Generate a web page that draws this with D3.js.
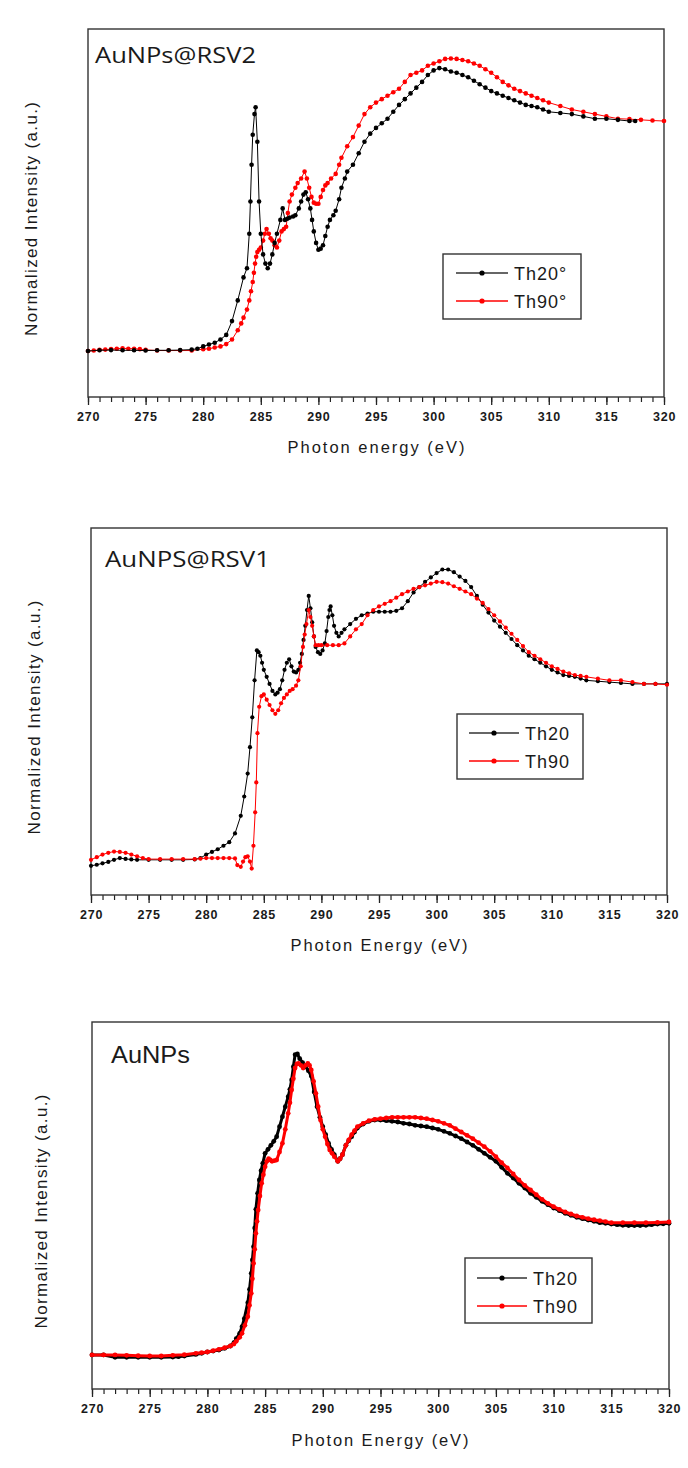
<!DOCTYPE html>
<html><head><meta charset="utf-8">
<script src="https://cdn.jsdelivr.net/npm/d3@7"></script>
<style>html,body{margin:0;padding:0;background:#fff;} svg{display:block;}</style>
</head><body>
<svg id="chart" width="688" height="1468"></svg>
<script>
// ---------- tick labels / categories ----------
const majorTicks = [270, 275, 280, 285, 290, 295, 300, 305, 310, 315, 320];
const tickLabels = ["270","275","280","285","290","295","300","305","310","315","320"];
const minorTicks = d3.range(270, 321, 1);
const panelTitles = ["AuNPs@RSV2", "AuNPS@RSV1", "AuNPs"];
const xTitles = ["Photon energy (eV)", "Photon Energy (eV)", "Photon Energy (eV)"];
const yTitle = "Normalized Intensity (a.u.)";
const legendLabelsTop = ["Th20°", "Th90°"];
const legendLabels = ["Th20", "Th90"];

// ---------- series: [photon energy eV, normalized intensity] ----------
const rsv2Th20 = [[270,0],[271,0.003],[272,0.004],[273,0.003],[274,0.003],[275,0.002],[276,0.003],[277,0.003],[278,0.004],[279,0.006],[279.5,0.01],[280,0.02],[280.5,0.028],[281,0.036],[281.5,0.05],[282,0.07],[282.5,0.13],[283,0.22],[283.5,0.32],[283.8,0.36],[284,0.51],[284.1,0.65],[284.2,0.81],[284.3,0.94],[284.45,1.03],[284.55,1.06],[284.7,0.91],[284.85,0.65],[285,0.51],[285.2,0.42],[285.4,0.38],[285.6,0.36],[285.8,0.38],[286,0.42],[286.2,0.47],[286.4,0.51],[286.7,0.57],[286.9,0.62],[287.1,0.57],[287.3,0.575],[287.5,0.58],[287.8,0.585],[288,0.59],[288.3,0.62],[288.5,0.65],[288.7,0.68],[288.9,0.69],[289.1,0.66],[289.3,0.62],[289.45,0.57],[289.6,0.52],[289.8,0.47],[290,0.44],[290.2,0.445],[290.4,0.46],[290.6,0.5],[290.8,0.54],[291,0.57],[291.3,0.59],[291.5,0.61],[291.8,0.66],[292,0.71],[292.3,0.75],[292.5,0.78],[293,0.81],[293.5,0.86],[294,0.91],[294.5,0.945],[295,0.97],[295.5,0.99],[296,1.01],[296.5,1.04],[297,1.07],[297.5,1.095],[298,1.12],[298.5,1.145],[299,1.17],[299.5,1.2],[300,1.22],[300.5,1.23],[301,1.225],[301.5,1.215],[302,1.21],[302.5,1.2],[303,1.19],[303.5,1.175],[304,1.16],[304.5,1.145],[305,1.13],[305.5,1.12],[306,1.11],[306.5,1.1],[307,1.09],[307.5,1.08],[308,1.07],[308.5,1.065],[309,1.06],[309.5,1.05],[310,1.04],[311,1.035],[312,1.03],[313,1.02],[314,1.01],[315,1.01],[316,1.005],[317,1.0],[317.5,1.0]];
const rsv2Th90 = [[270,0],[270.5,0.002],[271,0.005],[271.5,0.006],[272,0.008],[272.5,0.01],[273,0.012],[273.5,0.01],[274,0.01],[274.5,0.008],[275,0.005],[276,0.002],[277,0.002],[278,0.002],[279,0.002],[280,0.008],[280.5,0.01],[281,0.015],[281.5,0.02],[282,0.03],[282.5,0.05],[283,0.09],[283.3,0.12],[283.5,0.145],[283.8,0.18],[284,0.22],[284.15,0.26],[284.3,0.3],[284.4,0.34],[284.5,0.38],[284.6,0.41],[284.7,0.43],[284.85,0.44],[285,0.45],[285.2,0.48],[285.35,0.51],[285.5,0.53],[285.7,0.51],[285.85,0.49],[286,0.48],[286.2,0.46],[286.4,0.45],[286.6,0.48],[286.8,0.52],[287,0.53],[287.2,0.54],[287.35,0.6],[287.5,0.65],[287.7,0.68],[288,0.71],[288.2,0.73],[288.5,0.75],[288.8,0.78],[289,0.75],[289.2,0.71],[289.4,0.67],[289.6,0.645],[289.8,0.64],[290,0.64],[290.2,0.67],[290.4,0.7],[290.6,0.72],[290.8,0.73],[291.1,0.75],[291.5,0.77],[291.8,0.81],[292,0.84],[292.5,0.89],[293,0.93],[293.5,0.98],[294,1.03],[294.5,1.06],[295,1.08],[295.5,1.095],[296,1.11],[296.5,1.125],[297,1.14],[297.5,1.17],[298,1.2],[298.5,1.21],[299,1.22],[299.5,1.24],[300,1.25],[300.5,1.26],[301,1.27],[301.5,1.272],[302,1.27],[302.5,1.265],[303,1.26],[303.5,1.25],[304,1.24],[304.5,1.225],[305,1.21],[305.5,1.19],[306,1.17],[306.5,1.155],[307,1.14],[307.5,1.13],[308,1.12],[308.5,1.11],[309,1.1],[309.5,1.09],[310,1.08],[311,1.065],[312,1.05],[313,1.04],[314,1.03],[315,1.02],[316,1.01],[317,1.008],[318,1.005],[319,1.002],[320,1.0]];

const rsv1Th20 = [[270,-0.034],[270.5,-0.028],[271,-0.02],[271.5,-0.012],[272,0],[272.5,0.01],[273,0.005],[273.5,0.002],[274,0],[275,0],[276,0],[277,0],[278,0],[279,0.002],[279.5,0.01],[280,0.03],[280.5,0.045],[281,0.06],[281.5,0.08],[282,0.1],[282.5,0.15],[283,0.25],[283.3,0.36],[283.6,0.49],[283.8,0.64],[284,0.81],[284.2,1.02],[284.4,1.19],[284.55,1.18],[284.7,1.16],[284.85,1.12],[285,1.08],[285.25,1.04],[285.5,1.0],[285.75,0.96],[286,0.94],[286.2,0.95],[286.4,0.97],[286.6,1.02],[286.8,1.08],[287,1.12],[287.2,1.14],[287.4,1.1],[287.6,1.07],[287.8,1.065],[288,1.08],[288.15,1.12],[288.3,1.17],[288.45,1.25],[288.6,1.33],[288.75,1.42],[288.9,1.5],[289.05,1.43],[289.2,1.35],[289.35,1.27],[289.5,1.21],[289.7,1.18],[289.9,1.17],[290.1,1.19],[290.3,1.23],[290.45,1.3],[290.6,1.38],[290.7,1.42],[290.8,1.44],[290.95,1.39],[291.1,1.33],[291.3,1.29],[291.5,1.27],[291.75,1.29],[292,1.31],[292.5,1.34],[293,1.37],[293.5,1.39],[294,1.4],[294.5,1.41],[295,1.41],[295.5,1.41],[296,1.41],[296.5,1.415],[297,1.43],[297.5,1.47],[298,1.52],[298.5,1.55],[299,1.58],[299.5,1.605],[300,1.63],[300.5,1.65],[301,1.65],[301.5,1.635],[302,1.61],[302.5,1.585],[303,1.55],[303.5,1.5],[304,1.45],[304.5,1.405],[305,1.36],[305.5,1.325],[306,1.29],[306.5,1.255],[307,1.22],[307.5,1.19],[308,1.16],[308.5,1.14],[309,1.12],[309.5,1.1],[310,1.08],[310.5,1.065],[311,1.05],[311.5,1.045],[312,1.04],[312.5,1.03],[313,1.02],[314,1.015],[315,1.01],[316,1.005],[317,1.0],[318,1.0],[319,1.0],[320,1.0]];
const rsv1Th90 = [[270,0],[270.5,0.015],[271,0.03],[271.5,0.04],[272,0.047],[272.5,0.045],[273,0.04],[273.5,0.03],[274,0.02],[274.5,0.01],[275,0.004],[276,0.004],[277,0.004],[278,0.004],[279,0.004],[279.5,0.006],[280,0.01],[280.5,0.01],[281,0.01],[281.5,0.01],[282,0.01],[282.5,0.008],[282.7,-0.03],[283,-0.04],[283.2,-0.01],[283.4,0.015],[283.6,0.02],[283.8,-0.01],[283.95,-0.05],[284.1,0.08],[284.25,0.27],[284.35,0.44],[284.45,0.72],[284.6,0.87],[284.8,0.93],[285,0.94],[285.25,0.91],[285.5,0.88],[285.75,0.85],[286,0.83],[286.25,0.85],[286.5,0.89],[286.75,0.92],[287,0.94],[287.25,0.96],[287.5,0.97],[287.8,0.99],[288,1.02],[288.2,1.1],[288.4,1.21],[288.55,1.28],[288.7,1.34],[288.9,1.42],[289.05,1.38],[289.2,1.33],[289.35,1.27],[289.5,1.22],[289.75,1.22],[290,1.22],[290.5,1.22],[291,1.22],[291.5,1.22],[292,1.23],[292.5,1.27],[293,1.31],[293.5,1.34],[294,1.39],[294.5,1.42],[295,1.44],[295.5,1.455],[296,1.47],[296.5,1.49],[297,1.51],[297.5,1.525],[298,1.54],[298.5,1.55],[299,1.56],[299.5,1.57],[300,1.58],[300.5,1.578],[301,1.57],[301.5,1.555],[302,1.54],[302.5,1.525],[303,1.51],[303.5,1.485],[304,1.46],[304.5,1.425],[305,1.39],[305.5,1.355],[306,1.32],[306.5,1.285],[307,1.25],[307.5,1.215],[308,1.18],[308.5,1.16],[309,1.14],[309.5,1.12],[310,1.1],[310.5,1.085],[311,1.07],[311.5,1.06],[312,1.05],[312.5,1.045],[313,1.04],[314,1.03],[315,1.02],[316,1.02],[317,1.01],[318,1.0],[319,1.0],[320,0.995]];

const auTh20 = [[270,0.008],[271,0.008],[272,-0.01],[273,-0.01],[274,-0.01],[275,-0.01],[276,-0.01],[277,-0.008],[277.5,-0.005],[278,0.0],[279,0.012],[279.5,0.02],[280,0.03],[280.5,0.037],[281,0.045],[281.5,0.058],[282,0.075],[282.3,0.1],[282.5,0.13],[282.8,0.17],[283,0.22],[283.2,0.28],[283.5,0.4],[283.65,0.5],[283.8,0.62],[283.9,0.72],[284,0.82],[284.1,0.96],[284.2,1.1],[284.35,1.22],[284.5,1.32],[284.65,1.39],[284.8,1.445],[285,1.52],[285.25,1.55],[285.5,1.58],[285.75,1.61],[286,1.645],[286.25,1.72],[286.5,1.795],[286.75,1.87],[287,1.945],[287.15,2.0],[287.3,2.07],[287.45,2.17],[287.6,2.26],[287.8,2.265],[288,2.23],[288.25,2.2],[288.5,2.17],[288.75,2.14],[289,2.1],[289.25,1.98],[289.5,1.87],[289.75,1.79],[290,1.72],[290.25,1.66],[290.5,1.595],[290.75,1.55],[291,1.51],[291.3,1.46],[291.5,1.48],[291.7,1.51],[292,1.58],[292.25,1.615],[292.5,1.645],[292.75,1.68],[293,1.71],[293.5,1.74],[294,1.76],[294.5,1.77],[295,1.77],[295.5,1.765],[296,1.76],[296.5,1.755],[297,1.745],[297.5,1.74],[298,1.73],[298.5,1.725],[299,1.72],[299.5,1.71],[300,1.7],[300.5,1.685],[301,1.67],[301.5,1.65],[302,1.63],[302.5,1.605],[303,1.58],[303.5,1.55],[304,1.52],[304.5,1.49],[305,1.46],[305.5,1.415],[306,1.37],[306.5,1.335],[307,1.295],[307.5,1.26],[308,1.22],[308.5,1.19],[309,1.16],[309.5,1.135],[310,1.11],[310.5,1.09],[311,1.07],[311.5,1.055],[312,1.04],[312.5,1.03],[313,1.02],[313.5,1.01],[314,1.0],[314.5,0.995],[315,0.99],[315.5,0.985],[316,0.98],[316.5,0.978],[317,0.978],[317.5,0.978],[318,0.98],[318.5,0.985],[319,0.99],[319.5,0.992],[320,0.995]];
const auTh90 = [[270,0.008],[271,0.008],[272,0.008],[273,0.005],[274,0.002],[275,0],[276,0],[277,0.005],[278,0.01],[279,0.02],[279.5,0.025],[280,0.03],[280.5,0.04],[281,0.05],[281.5,0.062],[282,0.075],[282.3,0.09],[282.5,0.11],[282.8,0.14],[283,0.17],[283.25,0.23],[283.5,0.295],[283.65,0.38],[283.8,0.47],[283.9,0.58],[284,0.695],[284.1,0.8],[284.2,0.92],[284.3,1.01],[284.4,1.095],[284.55,1.2],[284.7,1.295],[284.85,1.36],[285,1.42],[285.15,1.46],[285.3,1.48],[285.45,1.47],[285.6,1.46],[285.8,1.465],[286,1.47],[286.25,1.53],[286.5,1.595],[286.75,1.7],[287,1.82],[287.15,1.9],[287.3,1.995],[287.45,2.08],[287.6,2.16],[287.75,2.19],[287.9,2.195],[288.1,2.18],[288.3,2.16],[288.5,2.18],[288.7,2.195],[288.85,2.18],[289,2.145],[289.2,2.06],[289.4,1.97],[289.6,1.87],[289.8,1.77],[290,1.7],[290.2,1.645],[290.4,1.59],[290.6,1.545],[290.8,1.52],[291,1.495],[291.3,1.46],[291.5,1.48],[291.7,1.51],[292,1.58],[292.25,1.62],[292.5,1.66],[292.75,1.69],[293,1.72],[293.5,1.745],[294,1.765],[294.5,1.775],[295,1.78],[295.5,1.785],[296,1.79],[296.5,1.79],[297,1.79],[297.5,1.79],[298,1.79],[298.5,1.785],[299,1.78],[299.5,1.77],[300,1.76],[300.5,1.745],[301,1.73],[301.5,1.705],[302,1.68],[302.5,1.655],[303,1.63],[303.5,1.6],[304,1.57],[304.5,1.535],[305,1.495],[305.5,1.45],[306,1.41],[306.5,1.365],[307,1.32],[307.5,1.28],[308,1.245],[308.5,1.21],[309,1.175],[309.5,1.145],[310,1.12],[310.5,1.1],[311,1.08],[311.5,1.065],[312,1.05],[312.5,1.04],[313,1.03],[313.5,1.022],[314,1.015],[314.5,1.008],[315,1.0],[316,1.0],[317,1.0],[318,1.0],[319,1.002],[320,1.005]];

// ---------- layout (positions / styles only) ----------
const panels = [
  { title: panelTitles[0], xTitle: xTitles[0], legend: legendLabelsTop, series: [rsv2Th90, rsv2Th20], order: ["red","black"],
    left: 88, right: 664, top: 29, bottom: 397, yDomain: [-0.2, 1.4],
    titleX: 95, titleY: 63, titleFont: "'Open Sans', 'Noto Sans', sans-serif", titleSize: 21, titleLen: 161,
    xTitleX: 376, xTitleY: 453, yTitleX: 37,
    leg: { x: 443, y: 254, w: 138, h: 65, lx1: 456, lx2: 508, row1: 273, row2: 301, tx: 514 },
    lineW: 1, r: 2.3 },
  { title: panelTitles[1], xTitle: xTitles[1], legend: legendLabels, series: [rsv1Th20, rsv1Th90], order: ["black","red"],
    left: 91, right: 667, top: 528, bottom: 895, yDomain: [-0.2, 1.886],
    titleX: 105, titleY: 567, titleFont: "'Open Sans', 'Noto Sans', sans-serif", titleSize: 21, titleLen: 165,
    xTitleX: 379, xTitleY: 951, yTitleX: 40,
    leg: { x: 457, y: 714, w: 126, h: 65, lx1: 469, lx2: 519, row1: 733, row2: 761, tx: 525 },
    lineW: 1, r: 2.1 },
  { title: panelTitles[2], xTitle: xTitles[2], legend: legendLabels, series: [auTh20, auTh90], order: ["black","red"],
    left: 92, right: 669, top: 1022, bottom: 1389, yDomain: [-0.2475, 2.505],
    titleX: 111, titleY: 1063, titleFont: "'Liberation Sans', Arial, sans-serif", titleSize: 23, titleLen: 79,
    xTitleX: 380, xTitleY: 1446, yTitleX: 47,
    leg: { x: 465, y: 1258, w: 127, h: 65, lx1: 477, lx2: 527, row1: 1278, row2: 1306, tx: 533 },
    lineW: 3, r: 2.4 }
];
const colors = { black: "#000000", red: "#ff0000" };
const legendLine = { black: "#333333", red: "#ff0000" };

const svg = d3.select("#chart");
svg.append("rect").attr("width", 688).attr("height", 1468).attr("fill", "#fff");

panels.forEach(p => {
  const g = svg.append("g");
  const x = d3.scaleLinear().domain([270, 320]).range([p.left, p.right]);
  const y = d3.scaleLinear().domain(p.yDomain).range([p.bottom, p.top]);

  // minor ticks
  const minorAxis = d3.axisBottom(x).tickValues(minorTicks).tickSize(5).tickFormat("");
  const ga = g.append("g").attr("transform", `translate(0,${p.bottom})`).call(minorAxis);
  ga.select(".domain").remove();
  ga.selectAll("line").attr("stroke", "#222").attr("stroke-width", 1.2);

  // major ticks + labels
  const majorAxis = d3.axisBottom(x).tickValues(majorTicks).tickSize(8).tickPadding(7.5)
    .tickFormat((d, i) => tickLabels[i]);
  const gm = g.append("g").attr("transform", `translate(0,${p.bottom})`).call(majorAxis);
  gm.select(".domain").remove();
  gm.selectAll("line").attr("stroke", "#222").attr("stroke-width", 1.3);
  gm.selectAll("text").attr("font-family", "'Liberation Sans', Arial, sans-serif")
    .attr("font-size", 12.5).attr("font-weight", "bold").attr("fill", "#1a1a1a")
    .attr("letter-spacing", 0.8);

  // frame
  g.append("rect").attr("x", p.left).attr("y", p.top)
    .attr("width", p.right - p.left).attr("height", p.bottom - p.top)
    .attr("fill", "none").attr("stroke", "#333").attr("stroke-width", 1.4);

  // series
  const line = d3.line().x(d => x(d[0])).y(d => y(d[1]));
  p.series.forEach((s, i) => {
    const c = colors[p.order[i]];
    g.append("path").datum(s).attr("d", line).attr("fill", "none")
      .attr("stroke", c).attr("stroke-width", p.lineW).attr("stroke-linejoin", "round");
    g.append("g").selectAll("circle").data(s).join("circle")
      .attr("cx", d => x(d[0])).attr("cy", d => y(d[1])).attr("r", p.r).attr("fill", c);
  });

  // panel title
  g.append("text").attr("x", p.titleX).attr("y", p.titleY)
    .attr("font-family", p.titleFont).attr("font-size", p.titleSize)
    .attr("fill", "#1a1a1a").attr("textLength", p.titleLen).attr("lengthAdjust", "spacingAndGlyphs")
    .text(p.title);

  // axis titles
  g.append("text").attr("x", p.xTitleX).attr("y", p.xTitleY).attr("text-anchor", "middle")
    .attr("font-family", "'Liberation Sans', Arial, sans-serif").attr("font-size", 16.5)
    .attr("fill", "#1a1a1a").attr("textLength", 177).attr("lengthAdjust", "spacing")
    .text(p.xTitle);
  const cy = (p.top + p.bottom) / 2 + 6;
  g.append("text").attr("transform", `translate(${p.yTitleX},${cy}) rotate(-90)`)
    .attr("text-anchor", "middle")
    .attr("font-family", "'Liberation Sans', Arial, sans-serif").attr("font-size", 17)
    .attr("fill", "#1a1a1a").attr("textLength", 234).attr("lengthAdjust", "spacing")
    .text(yTitle);

  // legend
  const L = p.leg;
  g.append("rect").attr("x", L.x).attr("y", L.y).attr("width", L.w).attr("height", L.h)
    .attr("fill", "#fff").attr("stroke", "#333").attr("stroke-width", 1.4);
  ["black", "red"].forEach((k, i) => {
    const ry = i === 0 ? L.row1 : L.row2;
    g.append("line").attr("x1", L.lx1).attr("x2", L.lx2).attr("y1", ry).attr("y2", ry)
      .attr("stroke", legendLine[k]).attr("stroke-width", 1.3);
    g.append("circle").attr("cx", (L.lx1 + L.lx2) / 2).attr("cy", ry).attr("r", 2.6).attr("fill", colors[k]);
    g.append("text").attr("x", L.tx).attr("y", ry + 7)
      .attr("font-family", "'Liberation Sans', Arial, sans-serif").attr("font-size", 18)
      .attr("letter-spacing", 1).attr("fill", "#1a1a1a").text(p.legend[i]);
  });
});
</script>
</body></html>
